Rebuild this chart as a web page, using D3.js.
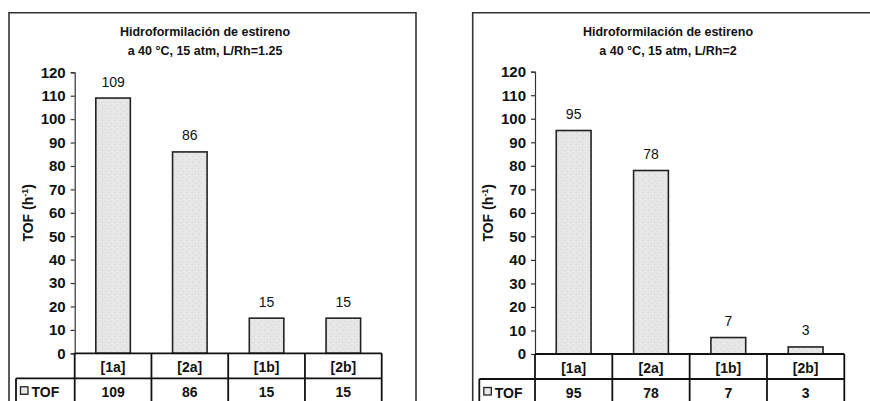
<!DOCTYPE html>
<html>
<head>
<meta charset="utf-8">
<script src="https://cdn.jsdelivr.net/npm/d3@7"></script>
<style>
  html, body { margin: 0; padding: 0; background: #fff; }
  svg { display: block; }
  text { font-family: Arial, "Liberation Sans", sans-serif; fill: #111; }
</style>
</head>
<body>
<svg id="chart" width="870" height="401"></svg>
<script>
// Catalyst categories and turnover frequencies (h^-1)
const categories = ["[1a]", "[2a]", "[1b]", "[2b]"];
const tofLR125 = [109, 86, 15, 15];
const tofLR2 = [95, 78, 7, 3];
const yTicks = [0, 10, 20, 30, 40, 50, 60, 70, 80, 90, 100, 110, 120];
const seriesName = "TOF";
const titleLine1 = "Hidroformilación de estireno";
const titlesLine2 = ["a 40 °C, 15 atm, L/Rh=1.25", "a 40 °C, 15 atm, L/Rh=2"];

const svg = d3.select("#chart");
const defs = svg.append("defs");

// Stippled light-gray fill for the bars
const pat = defs.append("pattern")
  .attr("id", "stipple").attr("patternUnits", "userSpaceOnUse")
  .attr("width", 6).attr("height", 6);
pat.append("rect").attr("width", 6).attr("height", 6).attr("fill", "#e6e6e6");
pat.append("rect").attr("x", 0).attr("y", 0).attr("width", 1).attr("height", 1).attr("fill", "#d2d2d2");
pat.append("rect").attr("x", 3).attr("y", 3).attr("width", 1).attr("height", 1).attr("fill", "#d8d8d8");
pat.append("rect").attr("x", 4).attr("y", 1).attr("width", 1).attr("height", 1).attr("fill", "#f2f2f2");

const panels = [
  { values: tofLR125, subtitle: titlesLine2[0], frameL: 9, frameR: 416, axisX: 74.7, tableR: 381.7,
    legendL: 16, titleX: 205, y0: 353.3, yTop: 72.3, ylabelX: 33 },
  { values: tofLR2, subtitle: titlesLine2[1], frameL: 472.7, frameR: 880, axisX: 535, tableR: 844.3,
    legendL: 479.3, titleX: 668, y0: 354, yTop: 71.7, ylabelX: 493 }
];

panels.forEach(p => {
  const g = svg.append("g");

  // Chart area border (bottom runs off the page)
  g.append("path")
    .attr("d", `M${p.frameL},405 V12.7 H${p.frameR} V405`)
    .attr("fill", "none").attr("stroke", "#333").attr("stroke-width", 1.6);

  // Title
  g.append("text").attr("x", p.titleX).attr("y", 36).attr("text-anchor", "middle")
    .attr("font-size", 12.5).attr("font-weight", "bold").text(titleLine1);
  g.append("text").attr("x", p.titleX).attr("y", 54.5).attr("text-anchor", "middle")
    .attr("font-size", 12.5).attr("font-weight", "bold").text(p.subtitle);

  const x = d3.scaleBand().domain(categories).range([p.axisX, p.tableR]).padding(0);
  const y = d3.scaleLinear().domain([0, 120]).range([p.y0, p.yTop]);

  // Y axis
  const yAxis = d3.axisLeft(y).tickValues(yTicks).tickSize(4).tickPadding(5);
  const ya = g.append("g").attr("transform", `translate(${p.axisX},0)`).call(yAxis);
  ya.select(".domain").attr("stroke", "#333").attr("stroke-width", 1.2);
  ya.selectAll(".tick line").attr("stroke", "#333").attr("stroke-width", 1.2);
  ya.selectAll(".tick text").attr("font-size", 15).attr("font-weight", "bold")
    .attr("font-family", "Arial, 'Liberation Sans', sans-serif").attr("fill", "#111");

  // Y axis title: TOF (h-1)
  const yl = g.append("text")
    .attr("transform", `translate(${p.ylabelX},${(p.y0 + p.yTop) / 2}) rotate(-90)`)
    .attr("text-anchor", "middle").attr("font-size", 14).attr("font-weight", "bold");
  yl.append("tspan").text("TOF (h");
  yl.append("tspan").attr("dy", -5).attr("font-size", 9).text("-1");
  yl.append("tspan").attr("dy", 5).text(")");

  // Bars
  const bw = x.bandwidth() * 0.45;
  g.selectAll(".bar").data(p.values).join("rect")
    .attr("class", "bar")
    .attr("x", (d, i) => x(categories[i]) + (x.bandwidth() - bw) / 2)
    .attr("y", d => y(d))
    .attr("width", bw)
    .attr("height", d => y(0) - y(d))
    .attr("fill", "url(#stipple)").attr("stroke", "#222").attr("stroke-width", 1.6);

  // Value labels
  g.selectAll(".val").data(p.values).join("text")
    .attr("class", "val")
    .attr("x", (d, i) => x(categories[i]) + x.bandwidth() / 2)
    .attr("y", d => y(d) - 11.5)
    .attr("text-anchor", "middle").attr("font-size", 14).text(d => d);

  // Data table below the plot
  const rowMid = p.y0 + 25;
  const tableBottom = 404;
  const tl = g.append("g").attr("stroke", "#111").attr("stroke-width", 1.8).attr("fill", "none");
  tl.append("line").attr("x1", p.axisX).attr("x2", p.tableR).attr("y1", p.y0).attr("y2", p.y0);
  tl.append("line").attr("x1", p.legendL).attr("x2", p.tableR).attr("y1", rowMid).attr("y2", rowMid);
  tl.append("line").attr("x1", p.legendL).attr("x2", p.legendL).attr("y1", rowMid).attr("y2", tableBottom);
  const cols = categories.map(c => x(c)).concat([p.tableR]);
  tl.selectAll(".col").data(cols).join("line")
    .attr("x1", d => d).attr("x2", d => d).attr("y1", p.y0).attr("y2", tableBottom);

  g.selectAll(".cat").data(categories).join("text")
    .attr("class", "cat")
    .attr("x", d => x(d) + x.bandwidth() / 2).attr("y", p.y0 + 18.5)
    .attr("text-anchor", "middle").attr("font-size", 14).attr("font-weight", "bold").text(d => d);

  g.selectAll(".cell").data(p.values).join("text")
    .attr("class", "cell")
    .attr("x", (d, i) => x(categories[i]) + x.bandwidth() / 2).attr("y", rowMid + 18.5)
    .attr("text-anchor", "middle").attr("font-size", 14).attr("font-weight", "bold").text(d => d);

  // Legend key in the table's row header
  g.append("rect").attr("x", p.legendL + 4.5).attr("y", rowMid + 8.5).attr("width", 7.5).attr("height", 7.5)
    .attr("fill", "#e8e8e8").attr("stroke", "#222").attr("stroke-width", 1.3);
  g.append("text").attr("x", p.legendL + 15.5).attr("y", rowMid + 18.5)
    .attr("font-size", 14).attr("font-weight", "bold").text(seriesName);
});
</script>
</body>
</html>
